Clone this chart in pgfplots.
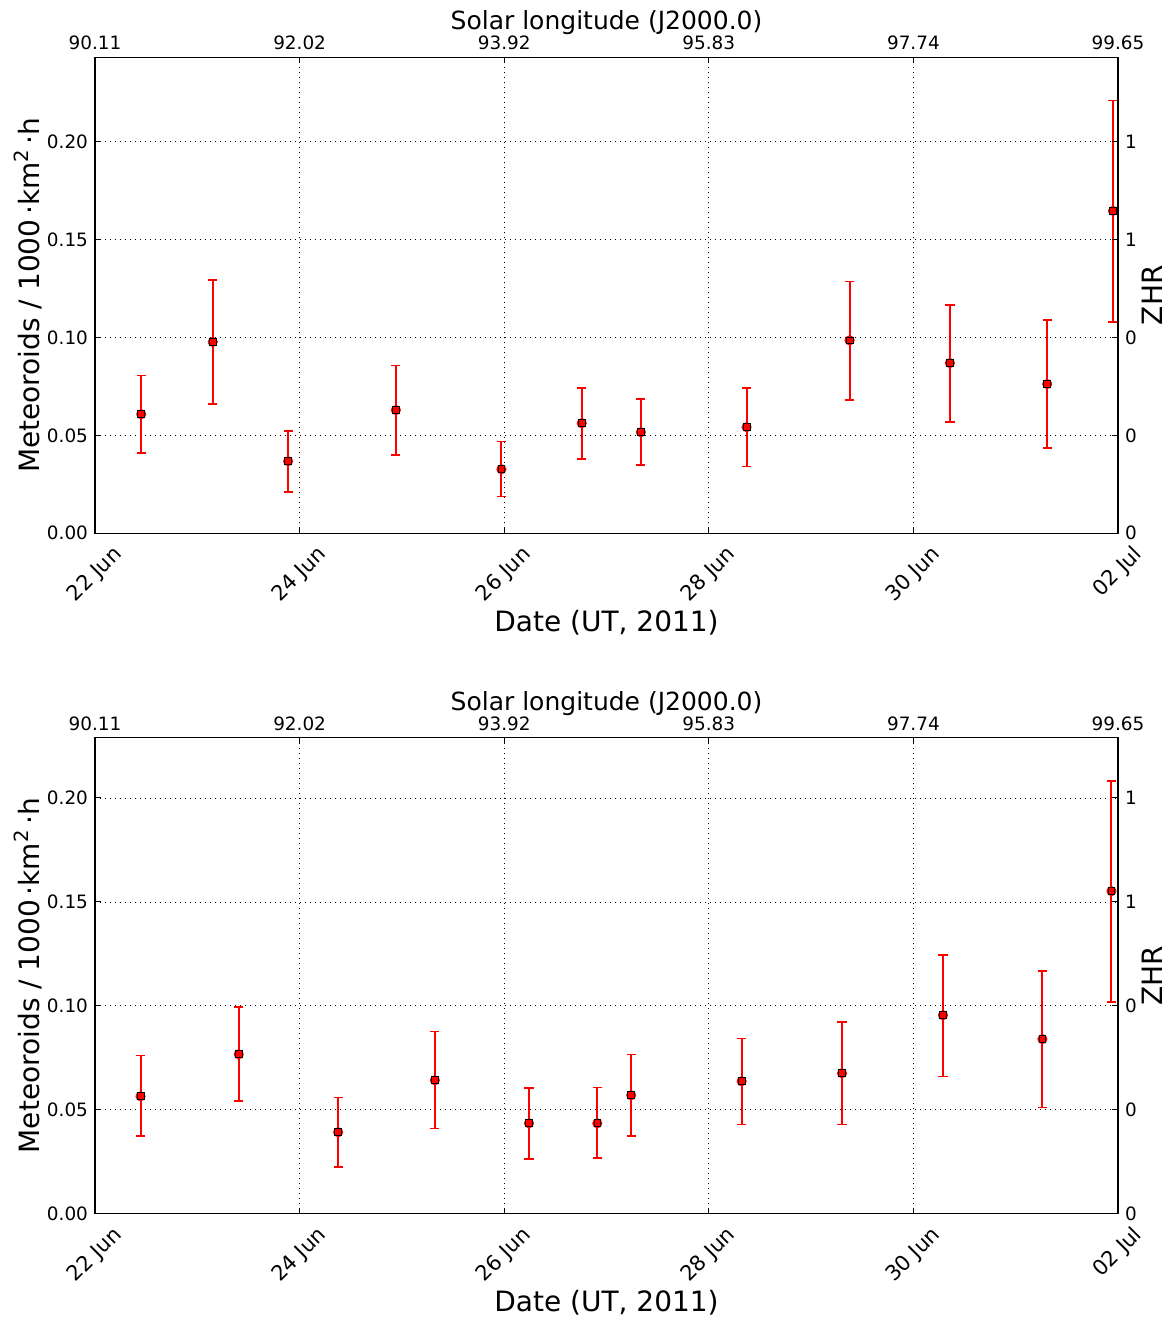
\documentclass[border=0pt]{standalone}
\usepackage{fontspec}
\setmainfont{DejaVu Sans}
\usepackage{graphicx}
\usepackage{pgfplots}
\pgfplotsset{compat=1.18}
\usepackage{pgfplotstable}

% days after 22 Jun 00:00 UT, value, lower and upper end of the error bar
\pgfplotstableread{
x     y      lo     hi
0.452 0.0608 0.0409 0.0806
1.151 0.0977 0.0660 0.1293
1.888 0.0368 0.0210 0.0521
2.941 0.0629 0.0399 0.0857
3.973 0.0327 0.0187 0.0468
4.758 0.0562 0.0378 0.0741
5.336 0.0516 0.0349 0.0685
6.369 0.0542 0.0342 0.0741
7.376 0.0985 0.0680 0.1286
8.357 0.0869 0.0567 0.1166
9.308 0.0762 0.0436 0.1089
9.951 0.1646 0.1079 0.2209
}\topdata

\pgfplotstableread{
x     y      lo     hi
0.445 0.0565 0.0373 0.0761
1.405 0.0767 0.0541 0.0994
2.377 0.0392 0.0226 0.0559
3.322 0.0642 0.0409 0.0876
4.242 0.0435 0.0262 0.0604
4.910 0.0435 0.0267 0.0607
5.241 0.0570 0.0373 0.0766
6.321 0.0637 0.0430 0.0843
7.302 0.0676 0.0430 0.0921
8.289 0.0955 0.0660 0.1245
9.261 0.0840 0.0510 0.1169
9.936 0.1552 0.1018 0.2082
}\botdata

\pgfplotsset{
  panel/.style={
    scale only axis, width=511.5pt, height=238pt,
    xmin=0, xmax=10, ymin=0,
    xtick={0,2,4,6,8,10},
    ytick={0,0.05,0.1,0.15,0.2},
    axis line style={line width=0.7pt},
    tick style={black, line width=0.5pt},
    major tick length=3pt,
  },
  main/.style={
    panel,
    grid=major,
    grid style={black, line width=0.4pt, dash pattern=on 0.6pt off 1.9pt},
    xticklabels={\rotatebox{45}{22 Jun},\rotatebox{45}{24 Jun},\rotatebox{45}{26 Jun},
                 \rotatebox{45}{28 Jun},\rotatebox{45}{30 Jun},\rotatebox{45}{02 Jul}},
    xticklabel style={anchor=north, yshift=-2pt, font=\fontsize{10.5}{12}\selectfont},
    yticklabel style={font=\fontsize{9.2}{11}\selectfont,
      /pgf/number format/.cd, fixed, fixed zerofill, precision=2, assume math mode=true},
    ylabel={Meteoroids / 1000\,·km\textsuperscript{2}\,·h},
    ylabel style={font=\fontsize{14}{16}\selectfont, at={(axis description cs:-0.0655,0.5)}, anchor=center},
    xlabel={Date (UT, 2011)},
    xlabel style={font=\fontsize{14}{16}\selectfont, at={(axis description cs:0.5,-0.188)}, anchor=center},
  },
  over/.style={
    panel,
    axis x line*=top, axis y line*=right,
    axis line style={-},
    xticklabels={90.11,92.02,93.92,95.83,97.74,99.65},
    yticklabels={0,0,0,1,1},
    ticklabel style={font=\fontsize{9.2}{11}\selectfont},
    ylabel={ZHR},
    ylabel style={font=\fontsize{14}{16}\selectfont, at={(axis description cs:1.0332,0.5)}, anchor=center},
    title={Solar longitude (J2000.0)},
    title style={font=\fontsize{12.5}{14}\selectfont, at={(axis description cs:0.5,1.047)}, anchor=center},
  },
  bars/.style={
    red, line width=1pt, only marks, mark=none, forget plot,
    error bars/.cd, y dir=both, y explicit,
    error bar style={red, line width=1pt, solid},
    error mark options={red, rotate=90, mark size=2.3pt, line width=0.8pt},
  },
  pts/.style={
    only marks, mark=square*, mark size=1.7pt,
    mark options={fill=red, draw=black, line width=0.4pt},
  },
}

\begin{document}
\begin{tikzpicture}
\useasboundingbox (-47.5pt,-393.35pt) rectangle (537.5pt,266.65pt);

% upper panel
\begin{axis}[main, at={(0,0)}, anchor=south west, ymax=0.243]
\addplot[bars] table[x=x, y=y,
  y error plus expr=\thisrow{hi}-\thisrow{y},
  y error minus expr=\thisrow{y}-\thisrow{lo}] {\topdata};
\addplot[pts] table[x=x, y=y] {\topdata};
\end{axis}
\begin{axis}[over, at={(0,0)}, anchor=south west, ymax=0.243]
\end{axis}

% lower panel
\begin{axis}[main, at={(0,-340.2pt)}, anchor=south west, ymax=0.229]
\addplot[bars] table[x=x, y=y,
  y error plus expr=\thisrow{hi}-\thisrow{y},
  y error minus expr=\thisrow{y}-\thisrow{lo}] {\botdata};
\addplot[pts] table[x=x, y=y] {\botdata};
\end{axis}
\begin{axis}[over, at={(0,-340.2pt)}, anchor=south west, ymax=0.229]
\end{axis}
\end{tikzpicture}
\end{document}
